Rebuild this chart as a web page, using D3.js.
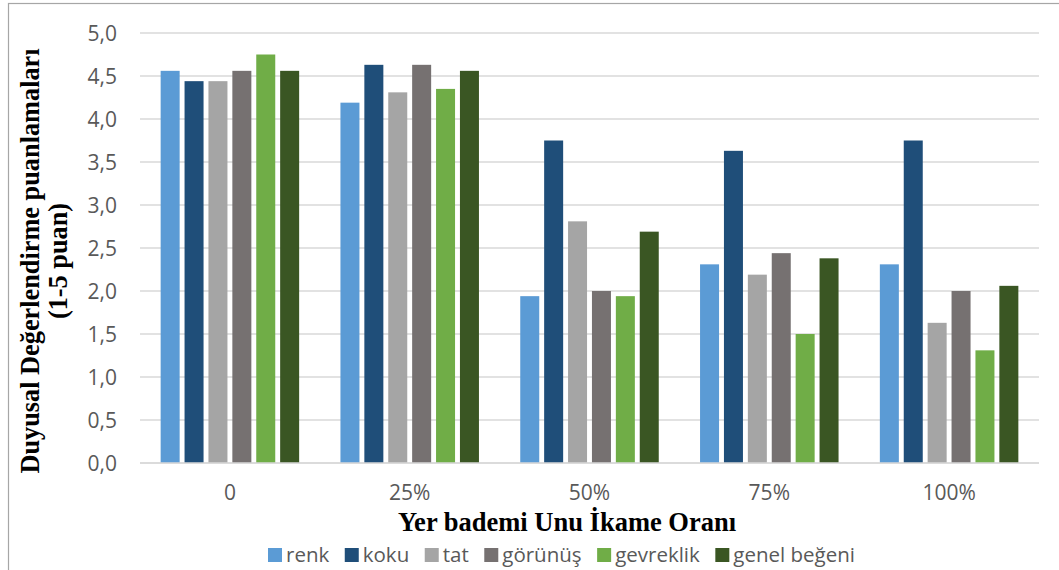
<!DOCTYPE html>
<html>
<head>
<meta charset="utf-8">
<script src="https://cdn.jsdelivr.net/npm/d3@7"></script>
<style>
html,body{margin:0;padding:0;background:#fff;}
svg{display:block;}
</style>
</head>
<body>
<svg id="chart" width="1059" height="570"></svg>
<script>
const categories = ["0", "25%", "50%", "75%", "100%"];
const seriesNames = ["renk", "koku", "tat", "görünüş", "gevreklik", "genel beğeni"];
const renk      = [4.56, 4.19, 1.94, 2.31, 2.31];
const koku      = [4.44, 4.63, 3.75, 3.63, 3.75];
const tat       = [4.44, 4.31, 2.81, 2.19, 1.63];
const gorunus   = [4.56, 4.63, 2.00, 2.44, 2.00];
const gevreklik = [4.75, 4.35, 1.94, 1.50, 1.31];
const genel     = [4.56, 4.56, 2.69, 2.38, 2.06];
const seriesColors = ["#5B9BD5", "#1F4E79", "#A5A5A5", "#767171", "#70AD47", "#3A5623"];
const yTicks = [0, 0.5, 1, 1.5, 2, 2.5, 3, 3.5, 4, 4.5, 5];
const yTitleLines = ["Duyusal Değerlendirme puanlamaları", "(1-5 puan)"];
const xTitle = "Yer bademi Unu İkame Oranı";

const seriesValues = [renk, koku, tat, gorunus, gevreklik, genel];

const svg = d3.select("#chart");
const plot = {left: 140, right: 1039, top: 33, bottom: 463};

// frame
svg.append("rect").attr("x", 8.5).attr("y", 3.5).attr("width", 1100).attr("height", 700)
  .attr("fill", "none").attr("stroke", "#a6a6a6").attr("stroke-width", 1.2);

const x0 = d3.scaleBand().domain(categories).range([plot.left, plot.right]).padding(0);
const x1 = d3.scaleBand().domain(seriesNames).range([0, x0.bandwidth()])
  .paddingInner(0.205).paddingOuter(0.864);
const y = d3.scaleLinear().domain([0, 5]).range([plot.bottom, plot.top]);

// gridlines
svg.append("g").selectAll("line").data(yTicks).join("line")
  .attr("x1", plot.left).attr("x2", plot.right)
  .attr("y1", d => y(d)).attr("y2", d => y(d))
  .attr("stroke", "#d9d9d9").attr("stroke-width", 1.4);

// y axis labels
const fmt = d => d.toFixed(1).replace(".", ",");
const yAxis = d3.axisLeft(y).tickValues(yTicks).tickFormat(fmt).tickSize(0).tickPadding(0);
const gy = svg.append("g").attr("transform", `translate(117,0)`).call(yAxis);
gy.select(".domain").remove();
gy.selectAll("text").attr("font-family", "'Open Sans', sans-serif").attr("font-size", 21)
  .attr("fill", "#595959").attr("x", 0).attr("dy", "0.34em");

// bars
const data = [];
categories.forEach((c, i) => {
  seriesNames.forEach((s, j) => data.push({cat: c, series: s, value: seriesValues[j][i], color: seriesColors[j]}));
});
svg.append("g").selectAll("rect").data(data).join("rect")
  .attr("x", d => x0(d.cat) + x1(d.series))
  .attr("width", x1.bandwidth())
  .attr("y", d => y(d.value))
  .attr("height", d => y(0) - y(d.value))
  .attr("fill", d => d.color);

// baseline
svg.append("line").attr("x1", plot.left).attr("x2", plot.right)
  .attr("y1", y(0)).attr("y2", y(0)).attr("stroke", "#d9d9d9").attr("stroke-width", 1.6);

// x axis labels
const xAxis = d3.axisBottom(x0).tickSize(0).tickPadding(0);
const gx = svg.append("g").attr("transform", `translate(0,${plot.bottom})`).call(xAxis);
gx.select(".domain").remove();
gx.selectAll("text").attr("font-family", "'Open Sans', sans-serif").attr("font-size", 21)
  .attr("fill", "#595959").attr("y", 30).attr("dy", "0.34em");

// x title
svg.append("text").attr("x", 567).attr("y", 531).attr("text-anchor", "middle")
  .attr("font-family", "'Liberation Serif', 'Times New Roman', serif").attr("font-weight", "bold")
  .attr("font-size", 26.5).attr("fill", "#000").text(xTitle);

// y title
const yt = svg.append("text").attr("transform", "translate(0,261) rotate(-90)")
  .attr("text-anchor", "middle")
  .attr("font-family", "'Liberation Serif', 'Times New Roman', serif").attr("font-weight", "bold")
  .attr("font-size", 26.3).attr("fill", "#000");
yt.selectAll("tspan").data(yTitleLines).join("tspan")
  .attr("x", 0).attr("y", (d, i) => i === 0 ? 39 : 67).text(d => d);

// legend
const lg = svg.append("g");
const items = lg.selectAll("g").data(seriesNames).join("g");
items.append("rect").attr("width", 14).attr("height", 14).attr("y", -7)
  .attr("fill", (d, i) => seriesColors[i]);
items.append("text").attr("x", 18).attr("dy", "0.34em")
  .attr("font-family", "'Open Sans', sans-serif").attr("font-size", 20.5).attr("fill", "#595959")
  .text(d => d);
const widths = [];
items.each(function() {
  widths.push(18 + d3.select(this).select("text").node().getComputedTextLength());
});
const legendSpan = 587;
const gap = (legendSpan - d3.sum(widths)) / (widths.length - 1);
let cx = 0;
items.each(function(d, i) {
  d3.select(this).attr("transform", `translate(${cx},0)`);
  cx += widths[i] + gap;
});
lg.attr("transform", `translate(${561.5 - legendSpan / 2},555)`);
</script>
</body>
</html>
